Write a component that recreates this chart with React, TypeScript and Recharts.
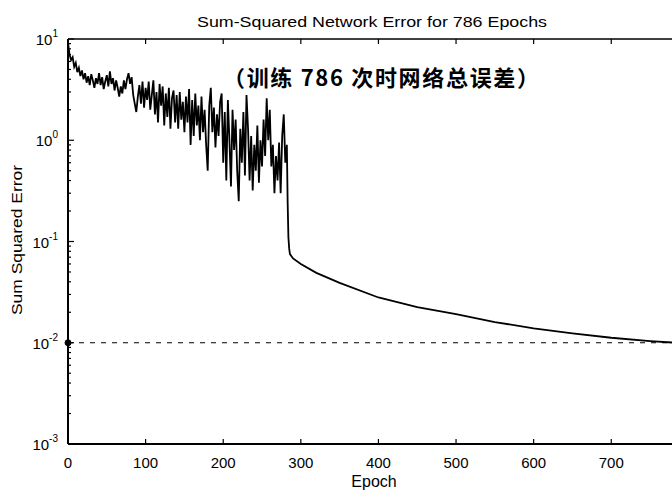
import React from "react";
import { LineChart, Line, XAxis, YAxis, ReferenceLine, ReferenceDot } from "recharts";

const TITLE = "Sum-Squared Network Error for 786 Epochs";
const ANNOTATION = "（训练 786 次时网络总误差）";
const X_LABEL = "Epoch";
const Y_LABEL = "Sum Squared Error";

const X_TICKS = [0, 100, 200, 300, 400, 500, 600, 700];
const Y_DECADES = [0.001, 0.01, 0.1, 1, 10];
const MINOR_STEPS = [2, 3, 4, 5, 6, 7, 8, 9];
const GOAL = 0.01;
const MAX_EPOCH = 786;

const EPOCHS = [
  0, 1, 2, 4, 6, 8, 10, 12, 14, 16, 18, 20, 22, 24, 26, 28, 30, 32, 34, 36, 38, 40,
  42, 44, 46, 48, 50, 52, 54, 56, 58, 60, 62, 64, 66, 68, 70, 72, 74, 76, 78, 80,
  82, 84, 86, 88, 90, 92, 94, 96, 98, 100, 102, 104, 106, 108, 110, 112, 114, 116,
  118, 120, 122, 124, 126, 128, 130, 132, 134, 136, 138, 140, 142, 144, 146, 148,
  150, 152, 154, 156, 158, 160, 162, 164, 166, 168, 170, 172, 174, 176, 178, 180,
  182, 184, 186, 188, 190, 192, 194, 196, 198, 200, 202, 204, 206, 208, 210, 212,
  214, 216, 218, 220, 222, 224, 226, 228, 230, 232, 234, 236, 238, 240, 242, 244,
  246, 248, 250, 252, 254, 256, 258, 260, 262, 264, 266, 268, 270, 272, 274, 276,
  278, 280, 282, 283, 284, 285, 286, 290, 300, 320, 350, 400, 450, 500, 550, 600,
  650, 700, 750, 786,
];

const ERRORS = [
  9.2, 8.0, 7.0, 6.2, 6.6, 5.3, 5.8, 4.7, 5.2, 4.3, 4.9, 4.0, 4.6, 3.7, 4.3, 3.5, 4.5, 3.9, 3.3, 4.1, 3.6, 4.6,
  3.5, 4.2, 3.2, 3.8, 4.4, 3.4, 4.8, 3.6, 4.1, 3.1, 3.9, 3.3, 2.7, 3.4, 2.9, 3.9, 3.2, 4.0, 4.6, 3.6,
  4.2, 2.8, 2.3, 1.9, 2.7, 3.5, 2.3, 3.8, 2.1, 3.3, 2.5, 3.8, 2.0, 2.8, 3.9, 1.8, 3.0, 1.5,
  3.6, 2.2, 3.4, 1.4, 2.9, 1.7, 3.3, 1.3, 2.6, 3.1, 1.5, 2.8, 1.3, 3.0, 1.6, 2.4,
  1.2, 2.7, 1.5, 3.2, 0.9, 2.5, 1.1, 2.9, 1.4, 2.2, 1.0, 2.7, 1.2, 2.0, 0.9, 0.5,
  2.2, 3.3, 1.2, 2.1, 0.85, 1.8, 1.1, 2.4, 2.9, 0.6, 1.9, 0.4, 2.5, 1.0, 0.35, 2.0,
  0.8, 1.6, 0.5, 0.25, 1.3, 0.6, 1.9, 0.45, 2.8, 1.3, 0.4, 1.1, 0.32, 0.9, 0.5, 1.4,
  0.38, 1.0, 0.55, 1.6, 0.7, 2.6, 1.0, 2.0, 0.55, 0.9, 0.3, 0.7, 0.4, 0.95, 0.3, 1.1,
  1.8, 0.6, 0.9, 0.25, 0.11, 0.085, 0.075, 0.068, 0.06, 0.049, 0.039, 0.028, 0.0225, 0.0192, 0.016, 0.0139,
  0.0124, 0.0112, 0.0104, 0.00996,
];

const data = EPOCHS.map((e, i) => ({ epoch: e, sse: ERRORS[i] }));

const Y_TICKS: number[] = [];
Y_DECADES.forEach((d, i) => {
  Y_TICKS.push(d);
  if (i < Y_DECADES.length - 1) MINOR_STEPS.forEach((m) => Y_TICKS.push(d * m));
});

const SANS = "'Liberation Sans', Arial, sans-serif";

const YTick = (props: any) => {
  const { x, y, payload } = props;
  const v = payload.value;
  const lg = Math.log10(v);
  const exp = Math.round(lg);
  const major = Math.abs(lg - exp) < 1e-6;
  return (
    <g>
      <line x1={x} x2={x + (major ? 6 : 3)} y1={y} y2={y} stroke="#000" strokeWidth={1.2} />
      {major && (
        <text x={x - 10} y={y + 6} textAnchor="end" fontFamily={SANS} fontSize={15} fill="#000">
          10
          <tspan dy={-8} fontSize={10}>{exp}</tspan>
        </text>
      )}
    </g>
  );
};

const XTickBottom = (props: any) => {
  const { x, y, payload } = props;
  return (
    <g>
      <line x1={x} x2={x} y1={y} y2={y - 5} stroke="#000" strokeWidth={1.2} />
      <text x={x} y={y + 24} textAnchor="middle" fontFamily={SANS} fontSize={15} fill="#000">
        {payload.value}
      </text>
    </g>
  );
};

const XTickTop = (props: any) => {
  const { x, y } = props;
  return <line x1={x} x2={x} y1={y} y2={y + 5} stroke="#000" strokeWidth={1.2} />;
};

export default function App() {
  return (
    <div style={{ position: "fixed", left: 0, top: 0, width: 672, height: 491, overflow: "hidden", background: "#fff" }}>
      <LineChart
        width={700}
        height={491}
        data={data}
        margin={{ top: 34, right: 22, bottom: 17, left: 8 }}
      >
        <XAxis
          xAxisId="bottom"
          dataKey="epoch"
          type="number"
          domain={[0, MAX_EPOCH]}
          ticks={X_TICKS}
          orientation="bottom"
          height={30}
          tickSize={0}
          tickMargin={0}
          tickLine={false}
          tick={<XTickBottom />}
          axisLine={{ stroke: "#000", strokeWidth: 2 }}
          allowDataOverflow
          interval={0}
        />
        <XAxis
          xAxisId="top"
          dataKey="epoch"
          type="number"
          domain={[0, MAX_EPOCH]}
          ticks={X_TICKS}
          orientation="top"
          height={5}
          tickSize={0}
          tickMargin={0}
          tickLine={false}
          tick={<XTickTop />}
          axisLine={{ stroke: "#000", strokeWidth: 1.5 }}
          allowDataOverflow
          interval={0}
        />
        <YAxis
          yAxisId="left"
          scale="log"
          type="number"
          domain={[0.001, 10]}
          ticks={Y_TICKS}
          width={60}
          tickSize={0}
          tickMargin={0}
          tickLine={false}
          tick={<YTick />}
          axisLine={{ stroke: "#000", strokeWidth: 2 }}
          allowDataOverflow
          interval={0}
        />
        <ReferenceLine
          xAxisId="bottom"
          yAxisId="left"
          y={GOAL}
          stroke="#000"
          strokeWidth={1.2}
          strokeDasharray="5 6"
        />
        <Line
          xAxisId="bottom"
          yAxisId="left"
          type="linear"
          dataKey="sse"
          stroke="#000"
          strokeWidth={1.8}
          dot={false}
          isAnimationActive={false}
        />
        <ReferenceDot
          xAxisId="bottom"
          yAxisId="left"
          x={0}
          y={GOAL}
          r={3}
          fill="#000"
          stroke="#000"
          ifOverflow="visible"
        />
      </LineChart>
      <svg
        width={672}
        height={491}
        style={{ position: "absolute", left: 0, top: 0, pointerEvents: "none" }}
      >
        <text x={372} y={27} textAnchor="middle" fontFamily={SANS} fontSize={15} textLength={350} lengthAdjust="spacingAndGlyphs" fill="#000">
          {TITLE}
        </text>
        <text x={381} y={86} textAnchor="middle" fontFamily="'Noto Sans CJK SC', sans-serif" fontWeight="bold" fontSize={22} textLength={316} lengthAdjust="spacing" fill="#000">
          {ANNOTATION}
        </text>
        <text x={374} y={487} textAnchor="middle" fontFamily={SANS} fontSize={16} fill="#000">
          {X_LABEL}
        </text>
        <text
          x={0}
          y={0}
          transform="translate(22,240) rotate(-90)"
          textAnchor="middle"
          fontFamily={SANS}
          fontSize={15}
          textLength={150}
          lengthAdjust="spacingAndGlyphs"
          fill="#000"
        >
          {Y_LABEL}
        </text>
      </svg>
    </div>
  );
}
